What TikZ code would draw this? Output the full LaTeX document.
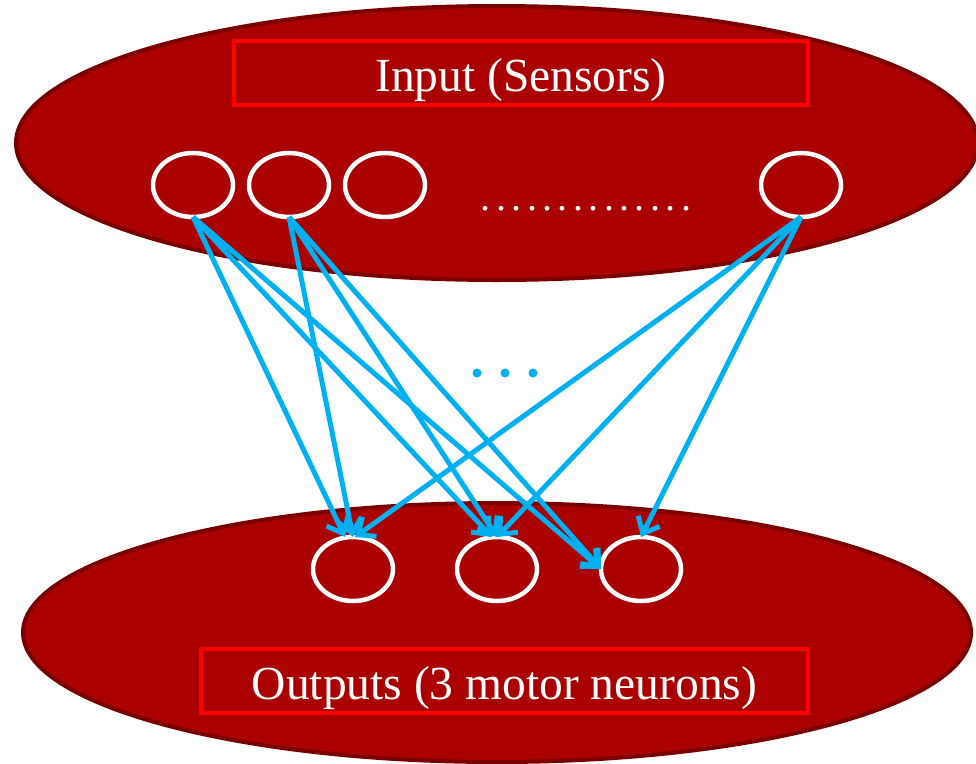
\documentclass[tikz,border=0pt]{standalone}
\usepackage{fontspec}
\setmainfont{Liberation Serif}
\usetikzlibrary{shapes.geometric,arrows.meta}
\definecolor{ellfill}{HTML}{AA0000}
\definecolor{ellline}{HTML}{7A0000}
\definecolor{boxred}{HTML}{FF0000}
\definecolor{wireblue}{HTML}{00B0F0}
\begin{document}
\begin{tikzpicture}[x=1pt,y=-1pt,
  layer/.style={ellipse, draw=ellline, fill=ellfill, line width=4pt, inner sep=0pt, outer sep=0pt},
  neuron/.style={ellipse, draw=white, line width=4.5pt, minimum width=80pt, minimum height=64pt, inner sep=0pt, outer sep=0pt},
  labelbox/.style={rectangle, draw=boxred, line width=4.5pt, minimum height=64pt, inner sep=0pt, outer sep=0pt},
  labeltext/.style={text=white, font=\fontsize{47.5}{57}\selectfont, anchor=base, inner sep=0pt},
  wire/.style={draw=wireblue, line width=5pt, -{Straight Barb[length=14pt,width=24pt]}},
  bluedot/.style={circle, fill=wireblue, minimum size=9pt, inner sep=0pt}]
\useasboundingbox (0,0) rectangle (976,763);

% layers
\node[layer, minimum width=962pt, minimum height=274pt] (toplayer) at (497,143) {};
\node[layer, minimum width=948pt, minimum height=259pt] (botlayer) at (497,632.5) {};

% label boxes and texts
\node[labelbox, minimum width=574pt] (inbox) at (521,73) {};
\node[labeltext] (intext) at (521,91) {Input (Sensors)};
\node[labelbox, minimum width=607pt] (outbox) at (504.5,681) {};
\node[labeltext] (outtext) at (504.5,699) {Outputs (3 motor neurons)};

% input neurons
\node[neuron] (c1) at (193,185) {};
\node[neuron] (c2) at (289,185) {};
\node[neuron] (c3) at (385,185) {};
\node[neuron] (c4) at (801,185) {};
\node[text=white, anchor=base, inner sep=0pt, font=\fontsize{40}{48}\selectfont\addfontfeature{LetterSpace=13.5}] (idots) at (586,210) {..............};

% output neurons
\node[neuron] (o1) at (353,569) {};
\node[neuron] (o2) at (497,569) {};
\node[neuron] (o3) at (641,569) {};

% middle dots
\node[bluedot] (m1) at (477,373) {};
\node[bluedot] (m2) at (505,373) {};
\node[bluedot] (m3) at (533,373) {};

% connections
\draw[wire] (c1.south) -- ([xshift=-8pt]o1.north);
\draw[wire] (c1.south) -- ([xshift=-5pt]o2.north);
\draw[wire] (c1.south) -- (o3.west);
\draw[wire] (c2.south) -- (o1.north);
\draw[wire] (c2.south) -- (o2.north);
\draw[wire] (c2.south) -- (o3.west);
\draw[wire] (c4.south) -- ([xshift=2pt]o1.north);
\draw[wire] (c4.south) -- (o2.north);
\draw[wire] (c4.south) -- (o3.north);
\end{tikzpicture}
\end{document}
